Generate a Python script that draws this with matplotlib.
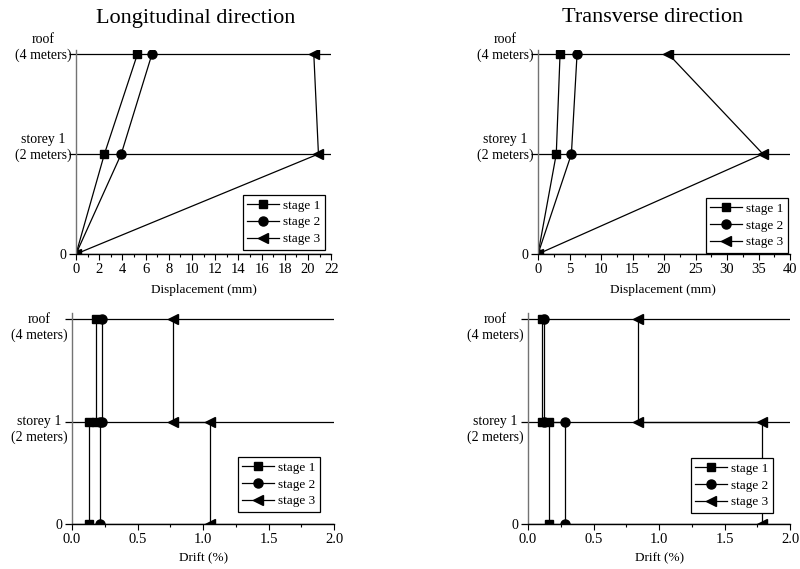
import numpy as np
import matplotlib
matplotlib.use("Agg")
import matplotlib.pyplot as plt
from matplotlib.ticker import MultipleLocator, FormatStrFormatter

plt.rcParams['font.family'] = ['Liberation Serif', 'DejaVu Serif']
plt.rcParams['font.size'] = 10

# storey heights (m) and labels
levels = [0, 2, 4]
level_labels = ['0', 'storey 1\n(2 meters)', 'roof\n(4 meters)']
stages = ['stage 1', 'stage 2', 'stage 3']
markers = ['s', 'o', '<']
msizes = [6, 6.5, 7.5]

# displacement (mm) at base, storey 1, roof
long_disp = [[0, 2.45, 5.3], [0, 3.9, 6.55], [0, 20.9, 20.5]]
trans_disp = [[0, 2.9, 3.5], [0, 5.3, 6.2], [0, 35.7, 20.7]]

# inter-storey drift (%) : storey 1, roof
long_drift = [[0.13, 0.18], [0.21, 0.23], [1.05, 0.77]]
trans_drift = [[0.16, 0.11], [0.28, 0.12], [1.79, 0.84]]

fig = plt.figure(figsize=(8, 5.69), dpi=100)

ax_tl = fig.add_axes([0.095, 0.5536, 0.319, 0.3585])
ax_tr = fig.add_axes([0.6725, 0.5536, 0.315, 0.3585])
ax_bl = fig.add_axes([0.09, 0.079, 0.3275, 0.371])
ax_br = fig.add_axes([0.66, 0.079, 0.3275, 0.371])


def style(ax, xmax, major, minor, ymax, leg_anchor, label_dy, label_dx):
    ax.set_xlim(0, xmax)
    ax.set_ylim(0, ymax)
    ax.xaxis.set_major_locator(MultipleLocator(major))
    ax.xaxis.set_minor_locator(MultipleLocator(minor))
    ax.set_yticks(levels)
    ax.set_yticklabels(['0', '', ''])
    # two-line level names placed by hand
    for y, lab in zip(levels[1:], level_labels[1:]):
        ax.annotate(lab, xy=(0, y), xycoords=('axes fraction', 'data'),
                    xytext=(label_dx, label_dy), textcoords='offset points',
                    ha='right', va='center', multialignment='center',
                    fontsize=10, linespacing=1.25, annotation_clip=False)
    ax.yaxis.grid(True, color='black', lw=0.9)
    ax.set_axisbelow(True)
    for s in ['top', 'right']:
        ax.spines[s].set_visible(False)
    ax.spines['left'].set_color('0.45')
    ax.spines['left'].set_linewidth(1.0)
    ax.spines['bottom'].set_linewidth(1.0)
    ax.tick_params(axis='y', length=5, width=0.9, color='black', pad=2, labelsize=10)
    ax.tick_params(axis='x', which='major', length=4, width=0.8, pad=2.5, labelsize=10.5)
    ax.tick_params(axis='x', which='minor', length=2.5, width=0.8)
    leg = ax.legend(loc='lower right', bbox_to_anchor=leg_anchor, borderaxespad=0,
                    fancybox=False, edgecolor='black', framealpha=1,
                    fontsize=9.5, handlelength=2.4, handletextpad=0.3,
                    labelspacing=0.35, borderpad=0.35)
    leg.get_frame().set_linewidth(0.9)


for i in range(3):
    kw = dict(color='black', lw=0.9, marker=markers[i], ms=msizes[i], label=stages[i])
    ax_tl.plot(long_disp[i], levels, **kw)
    ax_tr.plot(trans_disp[i], levels, **kw)
    d = long_drift[i]
    ax_bl.plot([d[0], d[0], d[1], d[1]], [0, 2, 2, 4], **kw)
    d = trans_drift[i]
    ax_br.plot([d[0], d[0], d[1], d[1]], [0, 2, 2, 4], **kw)

style(ax_tl, 22, 2, 1, 4.08, (0.976, 0.02), 4.5, -3)
style(ax_tr, 40, 5, 2.5, 4.08, (0.992, 0.005), 4.5, -3)
style(ax_bl, 2.0, 0.5, 0.25, 4.12, (0.947, 0.057), -6, -3.5)
style(ax_br, 2.0, 0.5, 0.25, 4.12, (0.935, 0.052), -6, -3.5)

ax_bl.xaxis.set_major_formatter(FormatStrFormatter('%.1f'))
ax_br.xaxis.set_major_formatter(FormatStrFormatter('%.1f'))

fig.text(196 / 800, 1 - 18 / 569, 'Longitudinal direction', ha='center', va='center', fontsize=16)
fig.text(653 / 800, 1 - 18 / 569, 'Transverse direction', ha='center', va='center', fontsize=16)

fig.text(204 / 800, 1 - 290 / 569, 'Displacement (mm)', ha='center', va='center', fontsize=9.5)
fig.text(663 / 800, 1 - 290 / 569, 'Displacement (mm)', ha='center', va='center', fontsize=9.5)
fig.text(204 / 800, 1 - 558 / 569, 'Drift (%)', ha='center', va='center', fontsize=9.5)
fig.text(660 / 800, 1 - 558 / 569, 'Drift (%)', ha='center', va='center', fontsize=9.5)

fig.savefig('out.png', dpi=100)
